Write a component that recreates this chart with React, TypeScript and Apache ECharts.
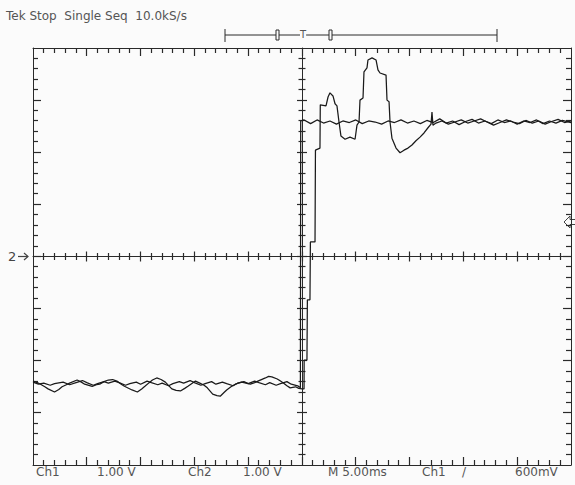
import React, { useEffect, useRef } from "react";
import * as echarts from "echarts";

// time in ms (5 ms/div, trigger at centre), voltage in V (1 V/div)
const traceA: number[][] = [
  [-25, -2.41], [-24.5, -2.45], [-24, -2.43], [-23.4, -2.47], [-23, -2.44], [-22.2, -2.41], [-21.6, -2.46],
  [-21, -2.42], [-20.4, -2.38], [-20, -2.42], [-19.4, -2.47], [-19, -2.44], [-18.4, -2.4], [-18, -2.43],
  [-17.4, -2.39], [-17, -2.42], [-16.4, -2.47], [-16, -2.44], [-15.4, -2.41], [-15, -2.45], [-14.4, -2.39],
  [-14, -2.42], [-13.4, -2.46], [-13, -2.43], [-12.4, -2.48], [-12, -2.44], [-11.4, -2.4], [-11, -2.43],
  [-10.4, -2.38], [-10, -2.42], [-9.4, -2.47], [-9, -2.44], [-8.4, -2.4], [-8, -2.45], [-7.4, -2.41],
  [-7, -2.44], [-6.4, -2.48], [-6, -2.43], [-5.4, -2.4], [-5, -2.44], [-4.4, -2.39], [-4, -2.42],
  [-3.4, -2.46], [-3, -2.42], [-2.4, -2.47], [-2, -2.44], [-1.4, -2.4], [-1, -2.45], [-0.4, -2.48],
  [-0.15, -2.52], [-0.12, 2.6],
  [0.2, 2.62], [0.8, 2.55], [1.4, 2.62], [2, 2.56], [2.6, 2.6], [3.2, 2.54], [3.8, 2.6], [4.4, 2.57],
  [5, 2.62], [5.6, 2.55], [6.2, 2.6], [6.8, 2.58], [7.4, 2.54], [8, 2.6], [8.6, 2.57], [9.2, 2.62],
  [9.8, 2.56], [10.4, 2.6], [11, 2.55], [11.6, 2.61], [12.2, 2.57], [12.8, 2.64], [13.4, 2.56],
  [14, 2.6], [14.6, 2.53], [15.2, 2.59], [15.8, 2.63], [16.4, 2.56], [17, 2.6], [17.6, 2.55],
  [18.2, 2.62], [18.8, 2.57], [19.4, 2.6], [20, 2.54], [20.6, 2.6], [21.2, 2.57], [21.8, 2.62],
  [22.4, 2.55], [23, 2.6], [23.6, 2.56], [24.2, 2.61], [25, 2.57],
];

const traceB: number[][] = [
  [-25, -2.39], [-24.6, -2.42], [-24.3, -2.45], [-23.9, -2.5], [-23.6, -2.54], [-23, -2.6], [-22.6, -2.55],
  [-22.3, -2.5], [-21.9, -2.46], [-21.6, -2.43], [-20.9, -2.37], [-20.5, -2.41], [-20.2, -2.45],
  [-19.5, -2.49], [-19.1, -2.46], [-18.8, -2.45], [-18.4, -2.4], [-18, -2.37], [-17.6, -2.36], [-17.2, -2.39],
  [-16.8, -2.45], [-16.5, -2.49], [-15.8, -2.56], [-15.3, -2.6], [-14.9, -2.54], [-14.6, -2.49],
  [-14.2, -2.42], [-13.9, -2.37], [-13.5, -2.33], [-13.1, -2.36], [-12.7, -2.41], [-12.1, -2.54],
  [-11.7, -2.57], [-11.3, -2.58], [-10.9, -2.53], [-10.6, -2.49], [-9.9, -2.39], [-9.5, -2.43],
  [-9.1, -2.47], [-8.8, -2.52], [-8.3, -2.64], [-7.9, -2.67], [-7.6, -2.68], [-7.2, -2.6], [-7, -2.56],
  [-6.6, -2.5], [-6.2, -2.45], [-5.6, -2.41], [-5.2, -2.43], [-4.8, -2.45], [-4.4, -2.42], [-4.1, -2.39],
  [-3.4, -2.33], [-3.1, -2.3], [-2.8, -2.31], [-2.3, -2.35], [-2, -2.39], [-1.7, -2.43], [-1.4, -2.48],
  [-1.1, -2.52], [-0.6, -2.5], [-0.3, -2.53], [0, -2.54], [0.19, -2.54], [0.2, -1.99], [0.46, -1.99],
  [0.5, -0.83], [0.74, -0.83], [0.78, 0.28], [1.21, 0.28], [1.25, 2.04], [1.67, 2.08],
  [1.7, 2.91], [2.23, 2.89], [2.42, 3.06], [2.6, 3.14], [2.88, 3.08], [3.07, 2.93], [3.25, 2.89],
  [3.44, 2.58], [3.62, 2.31], [4.0, 2.25], [4.46, 2.29], [4.93, 2.25], [5.11, 2.52], [5.3, 2.58],
  [5.39, 3.0], [5.67, 3.04], [5.76, 3.54], [6.04, 3.62], [6.13, 3.77], [6.51, 3.81], [6.88, 3.77],
  [7.06, 3.58], [7.25, 3.52], [7.81, 3.48], [7.9, 3.0], [8.09, 2.97], [8.18, 2.58], [8.36, 2.27],
  [8.74, 2.08], [9.11, 1.99], [9.48, 2.04], [9.85, 2.08], [10.22, 2.14], [10.59, 2.22],
  [10.97, 2.29], [11.34, 2.37], [11.71, 2.47], [11.99, 2.54], [12.08, 2.77], [12.17, 2.52],
  [12.45, 2.56], [13, 2.6], [13.6, 2.54], [14.2, 2.58], [14.8, 2.62], [15.4, 2.56], [16, 2.6],
  [16.6, 2.64], [17.2, 2.58], [17.8, 2.52], [18.4, 2.57], [19, 2.62], [19.6, 2.58], [20.2, 2.55],
  [20.8, 2.61], [21.4, 2.56], [22, 2.6], [22.6, 2.54], [23.2, 2.59], [23.8, 2.63], [24.4, 2.57],
  [25, 2.6],
];

// graticule: 10 x 8 divisions, 5 minor marks per division
const timeRange = [-25, 25];
const timeDiv = 5;
const voltRange = [-4, 4];
const voltDiv = 1;
const minorPerDiv = 5;

const headerText = "Tek Stop  Single Seq  10.0kS/s";
const readouts: { text: string; x: number }[] = [
  { text: "Ch1", x: 36 },
  { text: "1.00 V", x: 97 },
  { text: "Ch2", x: 188 },
  { text: "1.00 V", x: 243 },
  { text: "M 5.00ms", x: 328 },
  { text: "Ch1", x: 422 },
  { text: "/", x: 462 },
  { text: "600mV", x: 515 },
];

const INK = "#2a2a2a";
const FONT = "DejaVu Sans";

// graticule mark positions: [0 = time mark, 1 = volt mark, position]
function graticuleMarks(): number[][] {
  const out: number[][] = [];
  const nx = ((timeRange[1] - timeRange[0]) / timeDiv) * minorPerDiv;
  for (let i = 1; i < nx; i++) out.push([0, timeRange[0] + (i * timeDiv) / minorPerDiv]);
  const ny = ((voltRange[1] - voltRange[0]) / voltDiv) * minorPerDiv;
  for (let i = 1; i < ny; i++) out.push([1, voltRange[0] + (i * voltDiv) / minorPerDiv]);
  return out;
}

function ax(range: number[], interval: number, position: string, onZero: boolean) {
  return {
    type: "value",
    min: range[0],
    max: range[1],
    interval,
    position,
    axisLine: { show: true, onZero, onZeroAxisIndex: 0, lineStyle: { color: INK, width: 1 } },
    axisTick: { show: false },
    axisLabel: { show: false },
    splitLine: { show: false },
  };
}

export default function App() {
  const ref = useRef<HTMLDivElement>(null);
  useEffect(() => {
    if (!ref.current) return;
    const chart = echarts.init(ref.current, undefined, { renderer: "svg" });
    const txt = { fill: "#555", fontSize: 12, fontFamily: FONT };
    const snap = (v: number) => Math.round(v - 0.5) + 0.5;
    chart.setOption({
      animation: false,
      backgroundColor: "#fbfbfb",
      grid: { left: 33, top: 48, right: 4, bottom: 20, outerBoundsMode: "none" },
      xAxis: [
        ax(timeRange, timeDiv, "bottom", false),
        ax(timeRange, timeDiv, "top", false),
        ax(timeRange, timeDiv, "bottom", true),
      ],
      yAxis: [
        ax(voltRange, voltDiv, "left", false),
        ax(voltRange, voltDiv, "right", false),
        ax(voltRange, voltDiv, "left", true),
      ],
      series: [
        {
          name: "graticule",
          type: "custom",
          xAxisIndex: 0,
          yAxisIndex: 0,
          silent: true,
          data: graticuleMarks(),
          encode: { x: -1, y: -1 },
          renderItem: (_p: any, api: any) => {
            const kind = api.value(0);
            const v = api.value(1);
            const div = kind === 0 ? timeDiv : voltDiv;
            const major = Math.abs(v / div - Math.round(v / div)) < 1e-6;
            const L = major ? 8 : 5;
            const C = major ? 5 : 3.5;
            const style = { stroke: INK, lineWidth: 1.2 };
            if (kind === 0) {
              const b = api.coord([v, voltRange[0]]);
              const t = api.coord([v, voltRange[1]]);
              const m = api.coord([v, 0]);
              const x = snap(b[0]);
              return {
                type: "group",
                children: [
                  { type: "line", shape: { x1: x, y1: b[1], x2: x, y2: b[1] - L }, style },
                  { type: "line", shape: { x1: x, y1: t[1], x2: x, y2: t[1] + L }, style },
                  { type: "line", shape: { x1: x, y1: m[1] - C, x2: x, y2: m[1] + C }, style },
                ],
              };
            }
            const l = api.coord([timeRange[0], v]);
            const r = api.coord([timeRange[1], v]);
            const m = api.coord([0, v]);
            const y = snap(l[1]);
            return {
              type: "group",
              children: [
                { type: "line", shape: { x1: l[0], y1: y, x2: l[0] + L, y2: y }, style },
                { type: "line", shape: { x1: r[0], y1: y, x2: r[0] - L, y2: y }, style },
                { type: "line", shape: { x1: m[0] - C, y1: y, x2: m[0] + C, y2: y }, style },
              ],
            };
          },
          z: 2,
        },
        {
          name: "Ch1",
          type: "line",
          data: traceA,
          xAxisIndex: 0,
          yAxisIndex: 0,
          showSymbol: false,
          lineStyle: { color: "#1a1a1a", width: 1.25 },
          z: 5,
        },
        {
          name: "Ch2",
          type: "line",
          data: traceB,
          xAxisIndex: 0,
          yAxisIndex: 0,
          showSymbol: false,
          lineStyle: { color: "#1a1a1a", width: 1.25 },
          z: 5,
        },
      ],
      graphic: [
        { type: "text", left: 6, top: 10, style: { text: headerText, ...txt } },
        // trigger / record bar
        { type: "line", shape: { x1: 225, y1: 35, x2: 497, y2: 35 }, style: { stroke: INK, lineWidth: 1 } },
        { type: "line", shape: { x1: 225, y1: 29, x2: 225, y2: 42 }, style: { stroke: INK, lineWidth: 1 } },
        { type: "line", shape: { x1: 497, y1: 29, x2: 497, y2: 42 }, style: { stroke: INK, lineWidth: 1 } },
        { type: "rect", shape: { x: 276, y: 30, width: 3, height: 10 }, style: { stroke: INK, fill: "#fbfbfb", lineWidth: 1 } },
        { type: "rect", shape: { x: 329, y: 30, width: 3, height: 10 }, style: { stroke: INK, fill: "#fbfbfb", lineWidth: 1 } },
        { type: "text", x: 300, y: 29, style: { text: "T", fill: "#555", fontSize: 10, fontFamily: FONT, backgroundColor: "#fbfbfb" } },
        // channel 2 ground marker
        { type: "text", x: 8, y: 250, style: { text: "2", fill: "#444", fontSize: 13, fontFamily: FONT } },
        { type: "line", shape: { x1: 18, y1: 256.5, x2: 28, y2: 256.5 }, style: { stroke: "#444", lineWidth: 1.2 } },
        { type: "polyline", shape: { points: [[24, 253], [28, 256.5], [24, 260]] }, style: { stroke: "#444", lineWidth: 1.2, fill: null } },
        // trigger level marker
        { type: "polyline", shape: { points: [[575, 219.5], [570, 219.5], [570, 216], [564, 222], [570, 228], [570, 224.5], [575, 224.5]] }, style: { stroke: "#444", lineWidth: 1, fill: null } },
        ...readouts.map((r) => ({ type: "text", x: r.x, y: 466, style: { text: r.text, ...txt } })),
      ],
    });
    return () => chart.dispose();
  }, []);
  return <div ref={ref} style={{ position: "absolute", left: 0, top: 0, width: 575, height: 485 }} />;
}
